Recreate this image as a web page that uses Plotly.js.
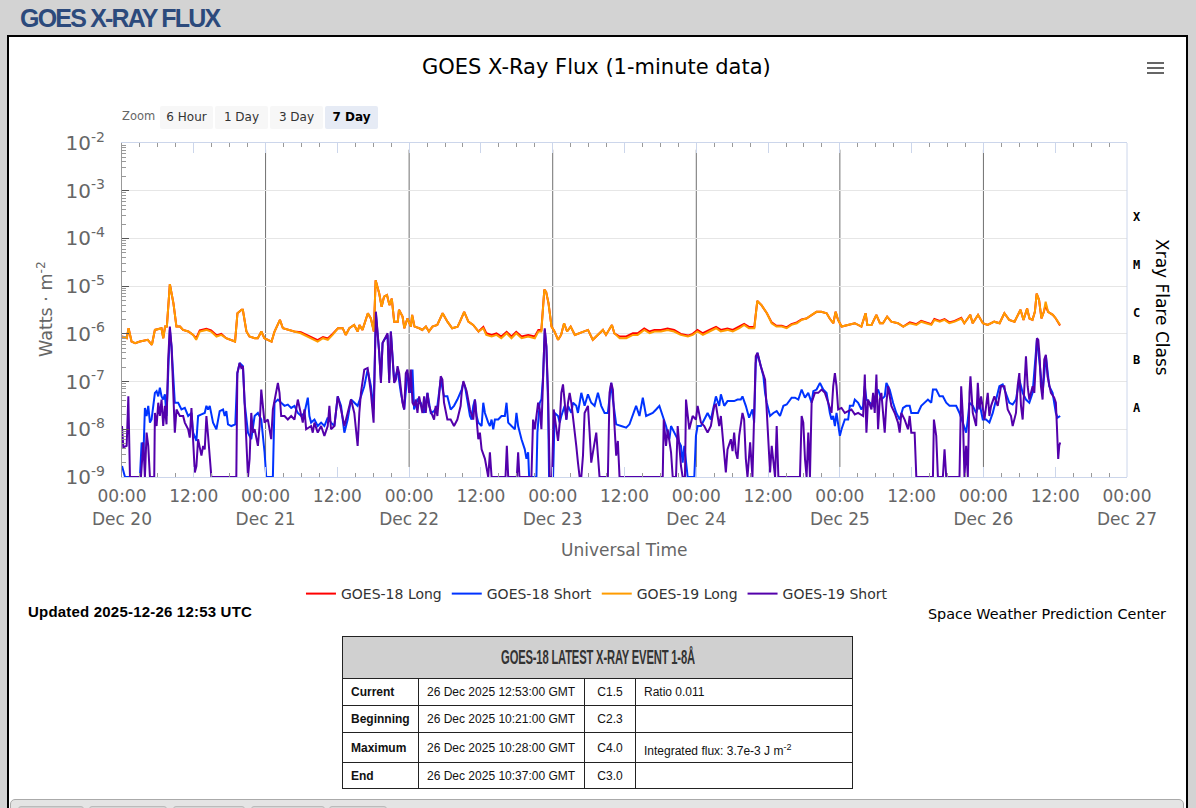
<!DOCTYPE html>
<html><head><meta charset="utf-8">
<script src="https://cdn.plot.ly/plotly-3.0.1.min.js"></script>
<style>
html,body{margin:0;padding:0;width:1196px;height:808px;overflow:hidden;background:#d3d3d3;font-family:"Liberation Sans",Arial,sans-serif;}
#hdr{position:absolute;left:20px;top:4px;font-weight:bold;font-size:25px;letter-spacing:-1.8px;color:#2c4a7c;white-space:nowrap;}
#panel{position:absolute;left:7px;top:35px;width:1177px;height:800px;background:#fff;border:2px solid #000;}
#chart{position:absolute;left:0;top:0;width:1196px;height:630px;z-index:2;}
#zoomlbl{position:absolute;left:122px;top:109px;font-family:"DejaVu Sans";font-size:11.5px;color:#666;z-index:3;}
.btn{position:absolute;top:106px;width:53px;height:23px;background:#f7f7f7;border-radius:2px;font-family:"DejaVu Sans";font-size:12px;color:#333;text-align:center;line-height:22px;z-index:3;}
.btn.sel{background:#e6ebf5;font-weight:bold;color:#000;}
.bar{position:absolute;left:1147px;width:17px;height:2.2px;background:#666;z-index:3;}
#upd{position:absolute;left:28px;top:603px;font-weight:bold;font-size:15px;letter-spacing:0.2px;color:#000;white-space:nowrap;z-index:3;}
#swpc{position:absolute;right:30px;top:606px;font-family:"DejaVu Sans";font-size:14.4px;color:#000;white-space:nowrap;z-index:3;}
#evt{position:absolute;left:342px;top:636px;width:511px;border-collapse:collapse;font-size:12px;color:#111;z-index:3;}
#evt td,#evt th{border:1px solid #222;padding:0 0 0 8px;text-align:left;}
#evt th{height:41px;background:#d0d0d0;text-align:center;padding:0;}
#evt th span{display:inline-block;font-size:20px;font-weight:bold;color:#333;transform:scaleX(0.56);white-space:nowrap;letter-spacing:-0.3px;}
#evt td.l{font-weight:bold;width:67px;}
#evt td.d{width:157px;}
#evt td.c{width:50px;padding:0;text-align:center;}
#bottom{position:absolute;left:10px;top:799px;width:1172px;height:40px;border:1px solid #aaa;border-radius:5px;background:#e4e4e4;z-index:3;}
.tab{position:absolute;top:6px;height:20px;background:#d6d6d6;border:1px solid #bbb;border-radius:3px;}
</style></head>
<body>
<div id="hdr">GOES X-RAY FLUX</div>
<div id="panel"></div>
<div id="chart"></div>
<div id="zoomlbl">Zoom</div>
<div class="btn" style="left:160px">6 Hour</div>
<div class="btn" style="left:215px">1 Day</div>
<div class="btn" style="left:270px">3 Day</div>
<div class="btn sel" style="left:325px">7 Day</div>
<div class="bar" style="top:62px"></div>
<div class="bar" style="top:67px"></div>
<div class="bar" style="top:72px"></div>
<div id="upd">Updated 2025-12-26 12:53 UTC</div>
<div id="swpc">Space Weather Prediction Center</div>
<table id="evt">
<tr><th colspan="4"><span>GOES-18 LATEST X-RAY EVENT 1-8Å</span></th></tr>
<tr style="height:27px"><td class="l">Current</td><td class="d">26 Dec 2025 12:53:00 GMT</td><td class="c">C1.5</td><td>Ratio 0.011</td></tr>
<tr style="height:27px"><td class="l">Beginning</td><td class="d">26 Dec 2025 10:21:00 GMT</td><td class="c">C2.3</td><td></td></tr>
<tr style="height:30px"><td class="l">Maximum</td><td class="d">26 Dec 2025 10:28:00 GMT</td><td class="c">C4.0</td><td style="padding-top:4px">Integrated flux: 3.7e-3 J m<sup style="font-size:9px">-2</sup></td></tr>
<tr style="height:26px"><td class="l">End</td><td class="d">26 Dec 2025 10:37:00 GMT</td><td class="c">C3.0</td><td></td></tr>
</table>
<div id="bottom">
<div class="tab" style="left:7px;width:64px;background:#cfcfcf"></div>
<div class="tab" style="left:78px;width:76px"></div>
<div class="tab" style="left:162px;width:70px"></div>
<div class="tab" style="left:240px;width:72px"></div>
<div class="tab" style="left:318px;width:56px"></div>
</div>
<script>
// ---- data (hours since 2025-12-20 00:00 UTC; flux in W/m^2) ----
const tLong = [0,0.8,1.1,1.6,2.2,3.0,4.3,5.0,5.5,6.6,6.9,7.2,7.5,8.0,8.6,9.1,9.7,10.2,11.1,11.9,
12.4,13.0,14.1,14.9,15.8,16.6,17.4,18.3,18.9,19.3,20.0,20.2,20.8,21.3,22.2,22.7,23.3,23.8,24.4,25.0,
25.5,26.4,26.9,27.7,28.8,29.9,31.0,31.9,32.7,33.6,34.4,35.2,36.1,36.9,37.4,38.0,38.8,39.4,39.7,40.2,
41.1,41.6,42.1,42.4,43.0,43.4,43.8,44.3,44.7,45.1,45.5,46.1,46.3,46.9,47.2,47.7,48.3,48.5,48.9,49.7,
50.2,50.8,51.3,51.9,52.7,53.6,54.4,55.2,56.1,
56.5,57.2,57.9,58.7,59.6,60.4,60.9,61.8,62.6,63.4,64.3,65.1,65.9,66.8,67.9,69.0,69.6,70.1,70.6,70.9,
71.3,71.8,72.3,72.9,73.4,73.9,74.4,75.0,75.7,76.5,77.3,77.9,78.7,79.6,80.4,80.9,81.9,82.3,83.2,84.3,
85.4,86.2,87.3,88.2,89.0,90.1,91.2,92.3,93.4,94.6,95.4,96.2,97.1,98.2,99.3,100.1,101.2,102.1,103.2,104.0,
104.8,105.7,106.2,
106.9,107.8,108.6,109.4,110.3,111.1,111.9,112.8,113.6,114.4,115.3,116.1,116.9,117.8,118.3,118.9,119.3,119.7,120.3,121.4,
122.5,123.6,124.3,124.6,125.3,126.1,126.7,127.2,127.9,128.6,129.7,130.6,131.7,132.8,133.6,134.4,135.3,135.8,136.7,137.5,
138.3,139.2,140.3,140.8,141.8,142.2,143.1,143.9,144.7,145.8,146.7,147.5,148.3,149.2,149.7,150.2,150.7,151.3,151.7,152.2,
152.6,152.9,153.3,153.7,154.1,154.4,154.8,155.6,156.1,156.8];

const goes18Long = [8.8e-7,8.1e-7,1.31e-6,6.9e-7,6.4e-7,6.9e-7,7.5e-7,5.9e-7,1.21e-6,1.31e-6,
8.1e-7,1.42e-6,1.42e-6,1.10e-5,4.35e-6,1.42e-6,1.42e-6,1.21e-6,1.12e-6,9.5e-7,
8.0e-7,1.18e-6,1.27e-6,1.18e-6,9.3e-7,1.0e-6,8.1e-7,7.5e-7,6.9e-7,2.7e-6,
3.2e-6,3.2e-6,1.12e-6,8.8e-7,8.1e-7,8.1e-7,1.12e-6,8.1e-7,7.5e-7,6.9e-7,
1.12e-6,1.96e-6,1.31e-6,1.21e-6,1.12e-6,1.08e-6,9.3e-7,8.0e-7,7.4e-7,8.6e-7,
8.0e-7,1.0e-6,1.31e-6,1.31e-6,9.5e-7,1.31e-6,1.54e-6,1.12e-6,1.54e-6,1.21e-6,
2.7e-6,2.1e-6,1.12e-6,1.33e-5,7.0e-6,3.7e-6,6.0e-6,6.5e-6,4.0e-6,5.5e-6,
1.8e-6,1.8e-6,3.2e-6,2.3e-6,1.31e-6,2.1e-6,1.42e-6,2.5e-6,1.42e-6,1.31e-6,
1.21e-6,1.42e-6,1.12e-6,1.42e-6,1.54e-6,2.7e-6,1.8e-6,1.31e-6,1.42e-6,
1.8e-6,2.9e-6,1.8e-6,1.54e-6,1.12e-6,1.4e-6,1.03e-6,9.5e-7,1.03e-6,8.8e-7,
1.1e-6,8.8e-7,1.1e-6,8.8e-7,9.5e-7,8.8e-7,1.2e-6,1.2e-6,8.5e-6,7.6e-6,
4.35e-6,1.42e-6,1.12e-6,7.5e-7,9.5e-7,1.67e-6,1.12e-6,1.42e-6,9.5e-7,1.03e-6,
1.12e-6,1.21e-6,7.5e-7,9.5e-7,1.21e-6,9.5e-7,1.54e-6,1.03e-6,8.8e-7,8.8e-7,
1.03e-6,1.03e-6,1.3e-6,1.12e-6,1.21e-6,1.21e-6,1.3e-6,1.21e-6,1.0e-6,9.2e-7,
1.0e-6,1.21e-6,1.03e-6,1.21e-6,1.4e-6,1.21e-6,1.3e-6,1.21e-6,1.4e-6,1.62e-6,
1.4e-6,1.4e-6,4.9e-6,
4.0e-6,2.7e-6,1.74e-6,1.48e-6,1.48e-6,1.37e-6,1.6e-6,1.74e-6,2.0e-6,2.1e-6,
2.5e-6,2.9e-6,2.9e-6,2.7e-6,2.1e-6,1.67e-6,2.9e-6,1.96e-6,1.42e-6,1.54e-6,
1.67e-6,1.42e-6,2.7e-6,1.54e-6,1.54e-6,2.5e-6,1.67e-6,1.67e-6,2.3e-6,1.8e-6,
1.67e-6,1.42e-6,1.74e-6,1.6e-6,1.87e-6,1.74e-6,1.6e-6,2.04e-6,1.87e-6,2.04e-6,
1.74e-6,1.87e-6,2.18e-6,1.67e-6,2.5e-6,1.67e-6,2.5e-6,1.67e-6,1.54e-6,1.8e-6,
1.67e-6,2.7e-6,1.96e-6,1.8e-6,2.5e-6,3.2e-6,1.96e-6,3.4e-6,2.1e-6,1.96e-6,
2.9e-6,7.0e-6,5.1e-6,2.1e-6,2.9e-6,4.0e-6,2.9e-6,2.5e-6,2.1e-6,1.5e-6];

const goes19Long = [8.8e-7,8.1e-7,1.31e-6,6.9e-7,6.4e-7,6.9e-7,7.5e-7,5.9e-7,1.21e-6,1.31e-6,
8.1e-7,1.42e-6,1.42e-6,1.10e-5,4.35e-6,1.42e-6,1.42e-6,1.21e-6,1.12e-6,9.5e-7,
7.5e-7,1.12e-6,1.21e-6,1.12e-6,8.8e-7,9.5e-7,8.1e-7,7.5e-7,6.9e-7,2.7e-6,
3.2e-6,3.2e-6,1.12e-6,8.8e-7,8.1e-7,8.1e-7,1.12e-6,8.1e-7,7.5e-7,6.9e-7,
1.12e-6,1.96e-6,1.31e-6,1.21e-6,1.12e-6,1.03e-6,8.8e-7,7.5e-7,6.9e-7,8.1e-7,
7.5e-7,9.5e-7,1.31e-6,1.31e-6,9.5e-7,1.31e-6,1.54e-6,1.12e-6,1.54e-6,1.21e-6,
2.7e-6,2.1e-6,1.12e-6,1.33e-5,7.0e-6,3.7e-6,6.0e-6,6.5e-6,4.0e-6,5.5e-6,
1.8e-6,1.8e-6,3.2e-6,2.3e-6,1.31e-6,2.1e-6,1.42e-6,2.5e-6,1.42e-6,1.31e-6,
1.21e-6,1.42e-6,1.12e-6,1.42e-6,1.54e-6,2.7e-6,1.8e-6,1.31e-6,1.42e-6,
1.8e-6,2.9e-6,1.8e-6,1.54e-6,1.12e-6,1.31e-6,9.5e-7,8.8e-7,9.5e-7,8.1e-7,
1.03e-6,8.1e-7,1.03e-6,8.1e-7,8.8e-7,8.1e-7,1.12e-6,1.12e-6,8.5e-6,7.6e-6,
4.35e-6,1.42e-6,1.12e-6,7.5e-7,9.5e-7,1.67e-6,1.12e-6,1.42e-6,9.5e-7,1.03e-6,
1.12e-6,1.21e-6,7.5e-7,9.5e-7,1.21e-6,9.5e-7,1.54e-6,1.03e-6,8.1e-7,8.1e-7,
9.5e-7,9.5e-7,1.21e-6,1.03e-6,1.12e-6,1.12e-6,1.21e-6,1.12e-6,9.5e-7,8.8e-7,
9.5e-7,1.12e-6,9.5e-7,1.12e-6,1.31e-6,1.12e-6,1.21e-6,1.12e-6,1.31e-6,1.54e-6,
1.31e-6,1.31e-6,4.9e-6,
4.0e-6,2.7e-6,1.67e-6,1.42e-6,1.42e-6,1.31e-6,1.54e-6,1.67e-6,1.96e-6,2.1e-6,
2.5e-6,2.9e-6,2.9e-6,2.7e-6,2.1e-6,1.67e-6,2.9e-6,1.96e-6,1.42e-6,1.54e-6,
1.67e-6,1.42e-6,2.7e-6,1.54e-6,1.54e-6,2.5e-6,1.67e-6,1.67e-6,2.3e-6,1.8e-6,
1.67e-6,1.42e-6,1.67e-6,1.54e-6,1.8e-6,1.67e-6,1.54e-6,1.96e-6,1.8e-6,1.96e-6,
1.67e-6,1.8e-6,2.1e-6,1.67e-6,2.5e-6,1.67e-6,2.5e-6,1.67e-6,1.54e-6,1.8e-6,
1.67e-6,2.7e-6,1.96e-6,1.8e-6,2.5e-6,3.2e-6,1.96e-6,3.4e-6,2.1e-6,1.96e-6,
2.9e-6,7.0e-6,5.1e-6,2.1e-6,2.9e-6,4.7e-6,2.9e-6,2.5e-6,2.1e-6,1.54e-6];

const tShort18 = [0,0.5,1.06,3.0,3.28,3.56,3.83,4.11,4.39,4.67,4.94,5.5,5.78,6.06,6.33,6.61,6.89,7.17,7.44,7.72,
8.0,8.28,8.83,9.39,9.94,10.5,11.06,11.61,11.89,12.44,12.72,13.28,13.83,14.11,14.39,14.67,14.94,15.22,15.78,16.33,
16.89,17.17,17.44,17.72,18.28,18.94,19.28,19.67,20.22,20.5,21.06,21.61,22.17,22.72,23.28,23.56,23.83,24.11,25.22,25.5,
26.06,26.61,27.17,27.72,28.28,28.83,29.39,29.94,30.5,31.06,31.33,31.61,32.17,32.72,33.28,33.83,34.39,34.94,35.5,36.06,
36.61,37.17,37.44,37.72,38.28,38.83,39.39,39.94,40.5,41.06,41.61,42.06,42.44,43.0,43.28,43.56,43.83,44.39,44.67,44.94,
45.5,46.06,46.61,47.17,47.72,48.28,48.56,48.83,49.39,49.94,50.5,51.06,51.61,52.17,52.72,53.28,53.83,54.39,54.94,55.5,56.06,
56.78,57.06,57.33,57.61,57.89,58.17,58.44,58.72,59.0,59.28,59.56,60.11,60.39,60.67,61.22,61.5,61.78,62.06,62.33,62.89,
63.44,64.0,64.28,64.56,65.11,65.67,65.94,66.22,66.78,67.33,67.61,67.89,68.06,69.28,69.44,69.83,70.11,70.39,70.67,70.94,
71.22,71.39,72.06,72.33,72.89,73.17,73.44,74.0,74.28,74.56,75.11,75.39,75.94,76.22,76.78,77.33,77.89,78.44,79.0,79.56,
80.11,80.67,81.22,81.78,82.06,82.61,83.44,84.28,84.83,85.39,85.94,86.5,87.06,87.61,88.17,88.72,89.28,89.83,90.39,90.94,
91.5,91.78,92.33,92.89,93.44,93.72,94.0,94.56,95.67,95.94,96.22,96.78,97.33,97.89,98.44,99.0,99.28,99.83,100.11,100.67,
101.22,101.78,102.33,102.89,103.44,103.72,104.28,104.83,105.39,105.67,105.94,106.22,106.78,
107.22,107.5,107.78,108.33,108.89,109.44,110.0,110.56,111.11,111.94,112.5,113.06,113.61,114.17,114.72,115.28,115.56,116.11,116.67,117.22,
117.78,118.33,118.61,118.89,119.17,119.44,120.0,120.28,120.83,121.39,121.67,122.22,122.5,123.06,123.61,123.89,124.17,124.44,125.0,125.56,
126.11,126.39,126.94,127.5,127.78,128.33,128.89,129.44,130.0,130.56,131.11,131.67,131.94,132.5,133.06,133.61,134.17,134.72,135.28,135.56,
136.11,136.67,137.22,137.78,138.33,138.89,139.44,140.0,140.56,141.11,141.39,141.67,142.22,142.78,143.33,143.89,144.44,145.0,145.56,146.11,
146.67,147.22,147.78,148.33,148.89,149.44,150.0,150.56,151.11,151.67,152.22,152.94,153.33,153.89,154.44,155.0,155.56,156.11,156.39,156.83];

const goes18Short = [1.7e-9,1e-9,1e-9,1e-9,5.3e-9,2.4e-9,2.8e-8,1.9e-8,3.1e-8,1.38e-8,1.6e-8,5.8e-8,6.3e-8,4.9e-8,7.4e-8,4.9e-8,4.2e-8,5.4e-8,1.9e-8,1.78e-7,
1.21e-6,5.4e-7,3.6e-8,3.6e-8,2.6e-8,2.8e-8,1.9e-8,2.2e-8,8.5e-9,5.7e-9,1.9e-8,2.05e-8,2.2e-8,3.1e-8,2.6e-8,3.1e-8,1.9e-8,1.38e-8,1.0e-8,2.4e-8,
2.6e-8,1.9e-8,2.4e-8,1.27e-8,1.17e-8,1.27e-8,1.5e-7,2.45e-7,2.1e-7,3.6e-8,8.5e-9,6.2e-9,1.9e-8,2.2e-8,1.6e-8,7.3e-9,3.3e-9,1e-9,1e-9,3.6e-8,
4.2e-8,3.6e-8,3.1e-8,3.3e-8,2.8e-8,3.1e-8,2.2e-8,1.9e-8,2.2e-8,4.6e-8,1.9e-8,1.38e-8,1.6e-8,1.17e-8,1.38e-8,1.17e-8,1.75e-8,1.38e-8,1.17e-8,4.9e-8,
3.1e-8,8.5e-9,1.17e-8,1.6e-8,4.2e-8,3.6e-8,3.1e-8,4.9e-8,8.0e-8,1.78e-7,8.0e-8,2.6e-8,2.7e-6,4.0e-7,1.1e-7,6.4e-7,7.5e-7,9.5e-7,1.1e-7,1.12e-6,
1.02e-7,1.78e-7,5.8e-8,2.6e-8,1.5e-7,5.8e-8,1.78e-7,2.6e-8,4.2e-8,3.6e-8,2.2e-8,5.8e-8,2.2e-8,2.4e-8,3.1e-8,1.1e-7,4.9e-8,4.9e-8,2.6e-8,3.1e-8,4.2e-8,
6.8e-8,9.4e-8,8.0e-8,4.9e-8,3.1e-8,1.9e-8,1.6e-8,3.1e-8,4.2e-8,1.9e-8,1.38e-8,1.17e-8,3.6e-8,2.2e-8,1.38e-8,1.17e-8,1.6e-8,1.0e-8,1.6e-8,1.6e-8,
1.9e-8,1.9e-8,3.6e-8,1.38e-8,1.17e-8,1.0e-8,2.2e-8,1.17e-8,6.2e-9,3.8e-9,2.4e-9,3.3e-9,1e-9,1e-9,8.5e-9,3.6e-8,4.2e-8,1.29e-7,1.21e-6,5.4e-7,
3.6e-8,1e-9,1e-9,2.2e-8,1.9e-8,1.38e-8,1.9e-8,3.1e-8,1.6e-8,3.1e-8,2.2e-8,3.6e-8,3.1e-8,2.2e-8,5.8e-8,3.1e-8,5.4e-8,3.6e-8,3.1e-8,5.8e-8,
3.1e-8,2.2e-8,2.2e-8,9.4e-8,4.2e-8,1.27e-8,1.17e-8,1.08e-8,1.27e-8,1.9e-8,3.1e-8,1.9e-8,4.6e-8,1.9e-8,2.05e-8,2.2e-8,2.6e-8,3.1e-8,1.9e-8,1.17e-8,
6.2e-9,1.17e-8,8.5e-9,6.2e-9,4.5e-9,2.0e-9,4.5e-9,1e-9,1e-9,7.3e-9,1.17e-8,1.17e-8,1.6e-8,2.2e-8,1.6e-8,3.1e-8,4.9e-8,3.1e-8,5.4e-8,3.1e-8,
3.9e-8,3.9e-8,3.9e-8,4.2e-8,4.2e-8,4.9e-8,3.1e-8,1.75e-8,2.6e-8,1.38e-8,2.45e-7,4.0e-7,2.1e-7,
1.29e-7,5.8e-8,3.6e-8,1.9e-8,2.2e-8,2.4e-8,1.9e-8,3.1e-8,3.3e-8,4.6e-8,4.6e-8,4.2e-8,6.8e-8,4.6e-8,5.8e-8,3.6e-8,6.3e-8,6.8e-8,9.4e-8,6.8e-8,
5.8e-8,2.2e-8,1.6e-8,1.9e-8,1.17e-8,2.2e-8,7.3e-9,1.0e-8,1.6e-8,1.6e-8,3.1e-8,3.1e-8,4.2e-8,3.6e-8,2.6e-8,3.1e-8,8.0e-8,4.2e-8,3.6e-8,3.1e-8,
5.8e-8,6.8e-8,4.2e-8,4.9e-8,9.4e-8,6.8e-8,3.6e-8,2.2e-8,1.6e-8,2.8e-8,3.1e-8,3.1e-8,2.2e-8,2.2e-8,2.2e-8,3.1e-8,3.6e-8,4.2e-8,3.6e-8,6.8e-8,
6.8e-8,4.9e-8,4.9e-8,3.6e-8,3.1e-8,3.1e-8,3.1e-8,2.2e-8,1.38e-8,8.5e-9,1.6e-8,3.6e-8,3.1e-8,2.2e-8,3.6e-8,1.6e-8,1.6e-8,1.38e-8,2.2e-8,4.2e-8,
8.0e-8,8.7e-8,5.8e-8,3.6e-8,3.3e-8,4.2e-8,1.1e-7,5.8e-8,4.2e-8,3.6e-8,5.8e-8,7.5e-7,2.9e-7,5.8e-8,3.4e-7,8.0e-8,5.8e-8,2.2e-8,1.75e-8,1.9e-8];

const tShort19 = [0,0.22,0.78,1.06,1.33,3.17,3.56,3.83,4.11,4.39,4.67,5.39,5.5,5.78,6.06,6.33,6.61,6.89,7.17,7.44,
7.72,8.0,8.28,8.56,8.83,9.11,9.67,10.22,10.5,11.06,11.33,11.61,11.89,12.17,12.44,12.72,13.28,13.56,13.83,14.11,
14.39,14.67,14.94,19.11,19.28,19.67,19.94,20.22,20.5,20.78,21.06,21.33,21.61,21.89,22.17,22.72,23.0,23.28,23.56,23.83,
24.39,24.94,25.22,25.5,26.06,26.33,26.61,27.17,27.72,28.28,28.83,29.39,29.94,30.22,30.5,30.78,31.61,31.89,32.17,32.72,
33.28,33.83,34.39,34.67,34.94,35.5,36.06,36.61,37.17,37.72,38.28,38.83,39.39,39.67,39.94,40.5,41.06,41.61,42.06,42.44,
43.0,43.28,43.56,43.83,44.39,44.67,44.94,45.5,45.78,46.06,46.33,46.89,47.17,47.44,47.72,48.0,48.28,48.56,48.83,49.11,
49.39,49.67,49.94,50.22,50.5,50.78,51.06,51.33,51.61,52.17,52.44,52.72,53.28,53.56,53.83,54.39,54.94,55.5,56.06,56.61,
56.78,57.06,57.61,58.17,58.72,59.0,59.56,59.83,60.11,60.67,61.22,61.5,61.78,64.11,64.33,64.56,66.0,66.22,66.44,68.44,
68.72,69.0,69.56,69.83,70.11,70.39,70.67,70.94,71.22,71.5,71.89,72.17,72.61,72.89,73.17,73.44,73.72,74.0,74.28,74.56,
74.83,75.11,75.39,75.94,76.22,76.5,76.78,77.06,77.33,77.89,78.17,78.44,79.0,79.28,79.56,79.83,81.22,81.5,81.78,82.06,
82.33,82.61,82.89,83.17,90.39,90.56,90.94,91.22,91.78,92.06,92.61,92.89,93.17,93.44,93.72,94.11,94.28,94.56,94.83,95.39,
95.94,96.22,96.78,97.33,97.89,98.44,99.0,99.28,99.83,100.11,100.39,100.94,101.22,101.78,102.06,102.33,102.61,102.89,103.17,103.72,
104.0,104.28,104.56,105.0,105.39,105.67,105.94,106.22,106.78,
107.5,107.78,108.06,108.33,108.61,108.89,109.17,109.44,109.72,113.33,113.61,113.89,114.17,114.44,114.72,115.0,115.28,115.83,116.39,116.94,
117.5,118.06,118.61,118.89,119.17,119.44,119.72,120.28,120.83,121.39,121.94,122.5,123.06,123.89,124.17,124.44,124.72,125.28,125.56,125.83,
126.11,126.39,126.67,126.94,127.5,127.78,128.06,128.61,129.17,129.72,130.0,130.28,130.83,131.39,131.67,131.94,132.5,132.78,135.56,135.72,
136.11,136.39,137.22,137.5,137.78,140.0,140.28,140.56,140.83,141.11,141.39,141.67,141.83,142.22,142.78,143.06,143.33,143.61,144.17,144.72,
145.0,145.28,145.83,146.39,146.94,147.5,148.06,148.61,148.89,149.44,149.72,150.0,150.28,150.56,150.83,151.11,151.39,151.67,152.22,152.5,
152.78,152.94,153.17,153.39,153.61,153.89,154.17,154.44,154.72,155.0,155.28,155.83,156.11,156.28,156.5,156.67,156.83];

const goes19Short = [1.17e-8,4.2e-9,4.5e-9,4.9e-8,1e-9,1e-9,5.3e-9,1e-9,8.5e-9,4.5e-9,1e-9,1e-9,2.2e-8,1.17e-8,3.6e-8,1.9e-8,4.2e-8,1.17e-8,3.1e-8,1.27e-8,
2.9e-7,1.42e-6,5.4e-7,5.8e-8,8.5e-9,2.6e-8,1.9e-8,1.9e-8,1.38e-8,1.0e-8,6.7e-9,2.8e-8,7.3e-9,1.25e-9,1.7e-9,6.2e-9,2.8e-9,4.5e-9,3.8e-9,1.9e-8,
7.3e-9,2.4e-9,1e-9,1e-9,1.5e-7,2.45e-7,1.93e-7,2.1e-7,3.6e-8,1.0e-8,1e-9,2.4e-9,2.2e-8,8.5e-9,1.0e-8,4.5e-9,1.17e-8,6.8e-8,2.6e-8,1.38e-8,
1.6e-8,6.2e-9,2.6e-8,4.2e-8,9.4e-8,5.8e-8,1.9e-8,1.9e-8,1.6e-8,1.9e-8,1.6e-8,4.2e-8,1.9e-8,1.38e-8,2.6e-8,1.0e-8,1.17e-8,8.5e-9,1.38e-8,8.5e-9,
1.17e-8,7.3e-9,1.17e-8,3.1e-8,1.0e-8,1.17e-8,4.9e-8,2.6e-8,1.17e-8,2.2e-8,4.2e-8,2.2e-8,4.5e-9,2.2e-8,5.8e-8,1.78e-7,1.93e-7,5.8e-8,1.38e-8,2.92e-6,
4.0e-7,9.4e-8,6.4e-7,7.5e-7,1.03e-6,9.4e-8,1.12e-6,9.4e-8,1.1e-7,2.1e-7,1.5e-7,3.6e-8,2.6e-8,1.5e-7,1.78e-7,5.8e-8,1.78e-7,3.6e-8,3.1e-8,4.2e-8,
2.2e-8,4.9e-8,3.1e-8,2.2e-8,4.9e-8,2.2e-8,5.8e-8,3.1e-8,2.4e-8,1.6e-8,3.1e-8,1.9e-8,1.29e-7,1.1e-7,3.6e-8,1.6e-8,1.6e-8,1.17e-8,1.6e-8,3.1e-8,
5.8e-8,1.02e-7,6.3e-8,2.6e-8,1.6e-8,4.2e-8,6.2e-9,8.5e-9,3.8e-9,2.4e-9,1e-9,3.3e-9,1e-9,1e-9,4.5e-9,1e-9,1e-9,3.3e-9,1e-9,1e-9,
1.6e-8,1.0e-8,3.6e-8,2.6e-8,1.0e-8,1.29e-7,1.31e-6,5.4e-7,5.8e-8,1e-9,1e-9,2.6e-8,8.5e-9,5.7e-9,1.38e-8,5.8e-8,8.7e-8,3.1e-8,1.6e-8,3.6e-8,
5.8e-8,3.6e-8,1.9e-8,4.5e-9,2.0e-9,1e-9,1e-9,2.8e-9,2.2e-8,3.1e-8,8.5e-9,2.0e-9,5.3e-9,8.5e-9,2.8e-9,1e-9,1e-9,5.8e-8,9.4e-8,6.8e-8,
1.17e-8,2.8e-9,5.7e-9,1e-9,1e-9,1.6e-8,4.5e-9,1.0e-8,3.3e-9,1e-9,1e-9,1.17e-8,4.5e-9,1.7e-9,1e-9,1e-9,4.2e-8,1.9e-8,1.0e-8,1.9e-8,
1.6e-8,3.1e-8,1.38e-8,1.17e-8,8.5e-9,1.17e-8,3.1e-8,3.3e-8,1.17e-8,1.9e-8,7.3e-9,1.25e-9,3.8e-9,6.2e-9,3.5e-9,8.5e-9,3.3e-9,2.4e-9,7.3e-9,2.2e-8,
1.6e-8,2.4e-9,1e-9,5.3e-9,1e-9,2.6e-8,3.4e-7,4.0e-7,2.1e-7,
1.1e-7,2.6e-8,4.5e-9,1.25e-9,4.5e-9,2.0e-9,1e-9,1.17e-8,1e-9,1e-9,1.9e-8,1.38e-8,2.4e-9,1e-9,8.5e-9,1e-9,3.6e-8,5.8e-8,5.8e-8,6.8e-8,
5.8e-8,3.6e-8,2.2e-8,8.0e-8,1.5e-7,8.0e-8,2.6e-8,2.8e-8,2.2e-8,2.4e-8,2.6e-8,2.05e-8,2.2e-8,1.9e-8,1.4e-7,8.5e-9,4.2e-8,2.6e-8,5.8e-8,2.2e-8,
1.4e-7,1.0e-8,4.2e-8,5.8e-8,8.5e-9,3.6e-8,8.0e-8,3.1e-8,2.2e-8,1.38e-8,8.5e-9,2.2e-8,1.6e-8,1.0e-8,1.9e-8,8.5e-9,8.5e-9,1e-9,1e-9,1.6e-8,
7.3e-9,1e-9,1e-9,3.8e-9,1e-9,1e-9,8.0e-8,1.9e-8,1e-9,4.5e-9,1e-9,5.8e-8,1.29e-7,2.2e-8,1.17e-8,9.4e-8,2.6e-8,4.9e-8,1.6e-8,5.8e-8,
1.9e-8,3.1e-8,4.9e-8,3.1e-8,8.0e-8,8.0e-8,2.6e-8,1.9e-8,1.17e-8,2.2e-8,8.0e-8,1.5e-7,3.1e-8,1.6e-8,5.8e-8,3.4e-7,8.0e-8,4.2e-8,8.0e-8,5.8e-8,
2.9e-7,8.1e-7,7.5e-7,3.4e-7,8.0e-8,4.2e-8,2.9e-7,3.65e-7,1.29e-7,8.0e-8,5.8e-8,4.6e-8,3.6e-8,1.17e-8,2.4e-9,4.5e-9,5.3e-9];

// axis labels
const seriesNames = ['GOES-18 Long','GOES-18 Short','GOES-19 Long','GOES-19 Short'];
const xTickHours = [0,12,24,36,48,60,72,84,96,108,120,132,144,156,168];
const xTickText = ['00:00<br>Dec 20','12:00','00:00<br>Dec 21','12:00','00:00<br>Dec 22','12:00','00:00<br>Dec 23','12:00',
  '00:00<br>Dec 24','12:00','00:00<br>Dec 25','12:00','00:00<br>Dec 26','12:00','00:00<br>Dec 27'];
const yTickVals = [1e-9,1e-8,1e-7,1e-6,1e-5,1e-4,1e-3,1e-2];
const yTickText = ['10<sup>-9</sup>','10<sup>-8</sup>','10<sup>-7</sup>','10<sup>-6</sup>','10<sup>-5</sup>','10<sup>-4</sup>','10<sup>-3</sup>','10<sup>-2</sup>'];
const flareClasses = ['X','M','C','B','A'];
const flareClassLog = [-3.5,-4.5,-5.5,-6.5,-7.5];
const dayLineHours = [24,48,72,96,120,144];

// ---- helpers ----
const T0 = Date.UTC(2025,11,20,0,0,0);
function toDate(h){ return new Date(T0 + Math.round(h*3600000)).toISOString().slice(0,19).replace('T',' '); }
const asDates = arr => arr.map(toDate);

const FONT = 'DejaVu Sans, Verdana, sans-serif';
const traces = [
  {x: asDates(tLong), y: goes18Long, name: seriesNames[0], line:{color:'#ff0000', width:2}},
  {x: asDates(tShort18), y: goes18Short, name: seriesNames[1], line:{color:'#0033ff', width:2}},
  {x: asDates(tLong), y: goes19Long, name: seriesNames[2], line:{color:'#ff9c00', width:2}},
  {x: asDates(tShort19), y: goes19Short, name: seriesNames[3], line:{color:'#5300ab', width:2}}
].map(t => Object.assign({type:'scatter', mode:'lines', hoverinfo:'skip'}, t));

// minor ticks for log axis
const yMinor = [];
for (let e = -9; e < -2; e++) for (let m = 2; m <= 9; m++) yMinor.push(m * Math.pow(10, e));

const shapes = dayLineHours.map(h => ({type:'line', xref:'x', yref:'paper', x0:toDate(h), x1:toDate(h), y0:0.03, y1:0.98,
  line:{color:'#707070', width:1}, layer:'below'}));
shapes.push({type:'line', xref:'paper', yref:'paper', x0:1, x1:1, y0:0, y1:1, line:{color:'#ccd6eb', width:1}});

const annotations = [
  {text:'GOES X-Ray Flux (1-minute data)', xref:'paper', yref:'paper', x:0.4726, y:1.2275, xanchor:'center', yanchor:'middle',
   showarrow:false, font:{family:FONT, size:21, color:'#000'}},
  {text:'Watts · m<sup>-2</sup>', xref:'paper', yref:'paper', x:-0.0766, y:0.503, xanchor:'center', yanchor:'middle',
   textangle:-90, showarrow:false, font:{family:FONT, size:17.5, color:'#666'}},
  {text:'Universal Time', xref:'paper', yref:'paper', x:0.4995, y:-0.2186, xanchor:'center', yanchor:'middle',
   showarrow:false, font:{family:FONT, size:17, color:'#666'}},
  {text:'Xray Flare Class', xref:'paper', yref:'paper', x:1.0348, y:0.506, xanchor:'center', yanchor:'middle',
   textangle:90, showarrow:false, font:{family:FONT, size:17, color:'#000'}}
];
flareClasses.forEach((c,i) => annotations.push({text:'<b>'+c+'</b>', xref:'paper', yref:'y', x:1.0099, y:flareClassLog[i],
  yshift:-2.5, xanchor:'center', yanchor:'middle', showarrow:false, font:{family:'DejaVu Sans Mono, monospace', size:12, color:'#000'}}));

const layout = {
  width:1196, height:630, autosize:false,
  margin:{l:122, r:69, t:143, b:153, pad:0},
  paper_bgcolor:'rgba(0,0,0,0)', plot_bgcolor:'#fff',
  showlegend:true,
  legend:{orientation:'h', x:0.4726, xanchor:'center', y:-0.3503, yanchor:'middle',
    font:{family:FONT, size:14, color:'#333'}, itemwidth:30, bgcolor:'rgba(0,0,0,0)', traceorder:'normal'},
  xaxis:{type:'date', range:[toDate(0), toDate(168)], tickmode:'array', tickvals:asDates(xTickHours), ticktext:xTickText,
    showgrid:false, zeroline:false, showline:true, linecolor:'#ccd6eb', linewidth:1, mirror:'ticks',
    ticks:'inside', ticklen:10, tickcolor:'#ccd6eb', tickwidth:1, ticklabelstandoff:4,
    minor:{dtick:10800000, ticks:'inside', ticklen:4, tickcolor:'#999', tickwidth:1, showgrid:false},
    tickfont:{family:FONT, size:17, color:'#666'}, fixedrange:true},
  yaxis:{type:'log', range:[-9,-2], tickmode:'array', tickvals:yTickVals, ticktext:yTickText,
    showgrid:true, gridcolor:'#e6e6e6', gridwidth:1, zeroline:false, showline:true, linecolor:'#999', linewidth:1, mirror:false,
    ticks:'inside', ticklen:7, tickcolor:'#555', tickwidth:1, ticklabelstandoff:12,
    minor:{tickmode:'array', tickvals:yMinor, ticks:'inside', ticklen:4, tickcolor:'#999', tickwidth:1, showgrid:false},
    tickfont:{family:FONT, size:20, color:'#666'}, fixedrange:true},
  shapes:shapes, annotations:annotations, hovermode:false
};

Plotly.newPlot('chart', traces, layout, {staticPlot:true, displayModeBar:false});
</script>
</body></html>
